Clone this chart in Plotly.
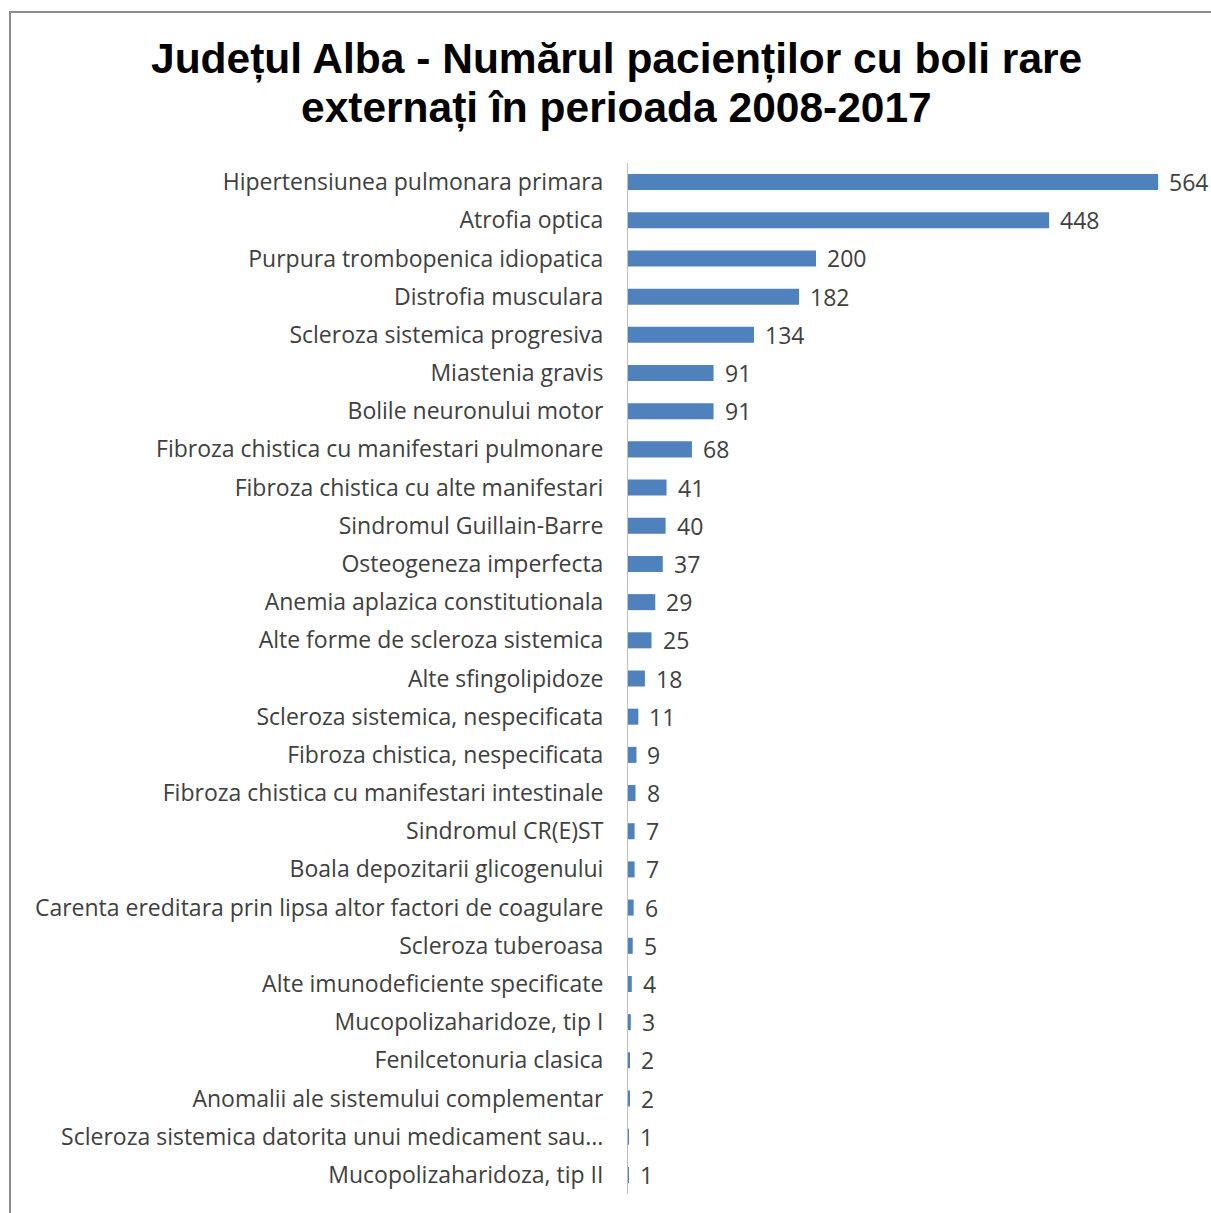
import plotly.graph_objects as go

categories = [
    "Hipertensiunea pulmonara primara",
    "Atrofia optica",
    "Purpura trombopenica idiopatica",
    "Distrofia musculara",
    "Scleroza sistemica progresiva",
    "Miastenia gravis",
    "Bolile neuronului motor",
    "Fibroza chistica cu manifestari pulmonare",
    "Fibroza chistica cu alte manifestari",
    "Sindromul Guillain-Barre",
    "Osteogeneza imperfecta",
    "Anemia aplazica constitutionala",
    "Alte forme de scleroza sistemica",
    "Alte sfingolipidoze",
    "Scleroza sistemica, nespecificata",
    "Fibroza chistica, nespecificata",
    "Fibroza chistica cu manifestari intestinale",
    "Sindromul CR(E)ST",
    "Boala depozitarii glicogenului",
    "Carenta ereditara prin lipsa altor factori de coagulare",
    "Scleroza tuberoasa",
    "Alte imunodeficiente specificate",
    "Mucopolizaharidoze, tip I",
    "Fenilcetonuria clasica",
    "Anomalii ale sistemului complementar",
    "Scleroza sistemica datorita unui medicament sau...",
    "Mucopolizaharidoza, tip II",
]
values = [564, 448, 200, 182, 134, 91, 91, 68, 41, 40, 37, 29, 25, 18, 11, 9, 8, 7, 7, 6, 5, 4, 3, 2, 2, 1, 1]

title_lines = ["Județul Alba - Numărul pacienților cu boli rare",
               "externați în perioada 2008-2017"]

W, H = 1211, 1213
ml, mr, mt, mb = 628, 0, 163, 19
pw, ph = W - ml - mr, H - mt - mb

def px_x(x):
    return (x - ml) / pw

def px_y(y):
    return (H - mb - y) / ph

label_font = dict(family="Open Sans, Noto Sans, sans-serif", size=23, color="#404040")

fig = go.Figure()
fig.add_trace(go.Bar(
    x=values, y=categories, orientation="h",
    marker=dict(color="#4F81BD", line=dict(width=0)),
    width=0.42,
    hoverinfo="skip",
))

for c, v in zip(categories, values):
    fig.add_annotation(x=v, y=c, text=str(v), showarrow=False, xanchor="left",
                       xshift=9, font=label_font)

for line, ty in zip(title_lines, [59, 108]):
    fig.add_annotation(x=px_x(616), y=px_y(ty), xref="paper", yref="paper",
                       text="<b>" + line + "</b>", showarrow=False,
                       xanchor="center", yanchor="middle",
                       font=dict(family="Liberation Sans, Arial, sans-serif", size=42.5, color="#000000"))

fig.add_shape(type="rect", xref="paper", yref="paper",
              x0=px_x(10), x1=px_x(1240), y0=px_y(12), y1=px_y(1240),
              line=dict(color="#8c8c8c", width=2), fillcolor="rgba(0,0,0,0)")

fig.update_layout(
    width=W, height=H,
    margin=dict(l=ml, r=mr, t=mt, b=mb, autoexpand=False),
    paper_bgcolor="white", plot_bgcolor="white",
    showlegend=False,
    bargap=0.58,
    xaxis=dict(range=[0, pw / 0.94], visible=False, showgrid=False, zeroline=False),
    yaxis=dict(autorange="reversed", showline=True, linecolor="#bfbfbf", linewidth=1,
               ticks="", showgrid=False, tickfont=label_font, ticklabelstandoff=19),
)

fig.write_html("out.html", config={"displayModeBar": False},
               post_script="document.body.style.margin='0';document.body.style.overflow='hidden';")
